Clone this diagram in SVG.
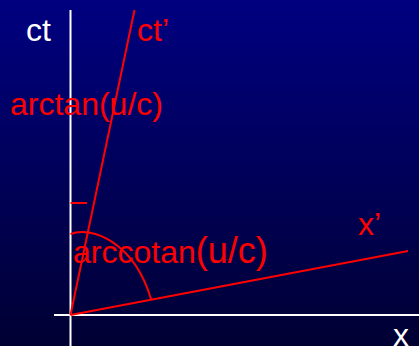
<svg xmlns="http://www.w3.org/2000/svg" width="419" height="346" viewBox="0 0 419 346">
  <defs>
    <linearGradient id="bg" x1="0" y1="0" x2="0" y2="1">
      <stop offset="0" stop-color="#000080"/>
      <stop offset="1" stop-color="#000033"/>
    </linearGradient>
  </defs>
  <style>
    .axis { stroke: #ffffff; stroke-width: 2; fill: none; }
    .red { stroke: #ff0000; stroke-width: 2; fill: none; }
    text { font-family: "Liberation Sans", Arial, sans-serif; font-size: 32px; }
    .w { fill: #ffffff; }
    .r { fill: #ff0000; }
  </style>
  <rect x="0" y="0" width="419" height="346" fill="url(#bg)"/>
  <g id="connectors">
    <line class="axis" x1="70.5" y1="10" x2="70.5" y2="346"/>
    <line class="axis" x1="54" y1="315" x2="419" y2="315"/>
    <line class="red" x1="70.5" y1="315" x2="134.5" y2="10"/>
    <line class="red" x1="70.5" y1="315" x2="408" y2="251"/>
    <line class="red" x1="70.5" y1="203" x2="87" y2="203"/>
    <path class="red" d="M70.5,234 C92,226 134,242 151,299"/>
  </g>
  <g id="label-ct"><text class="w" x="26" y="41">ct</text></g>
  <g id="label-ctp"><text class="r" x="137" y="41">ct’</text></g>
  <g id="label-arctan"><text class="r" x="10" y="115">arctan(u/c)</text></g>
  <g id="label-arccotan"><text class="r" x="73" y="263">arccotan<tspan font-size="36">(u/c)</tspan></text></g>
  <g id="label-xp"><text class="r" x="358" y="235" font-size="38">x’</text></g>
  <g id="label-x"><text class="w" x="393" y="346" font-size="38">x</text></g>
</svg>
